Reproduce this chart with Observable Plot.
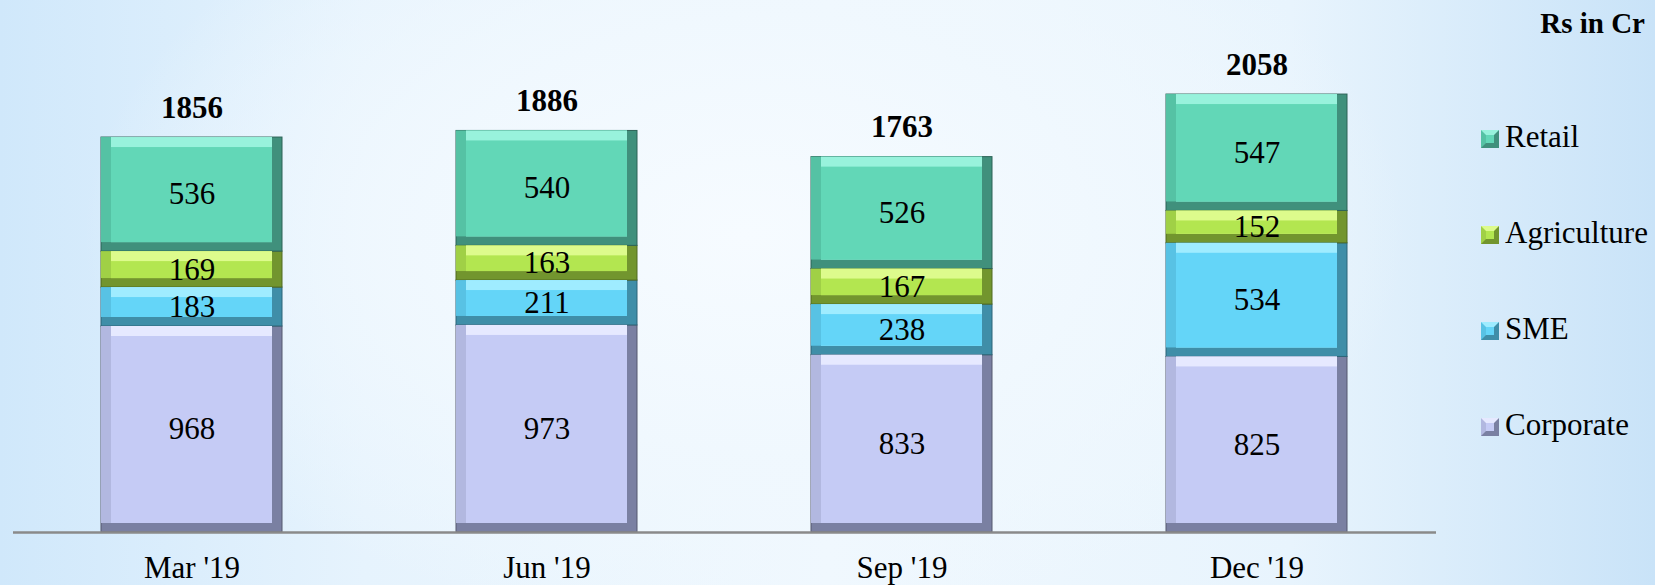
<!DOCTYPE html>
<html>
<head>
<meta charset="utf-8">
<script src="https://cdn.jsdelivr.net/npm/d3@7"></script>
<script src="https://cdn.jsdelivr.net/npm/@observablehq/plot@0.6"></script>
<style>
  html, body { margin: 0; padding: 0; }
  body {
    width: 1655px; height: 585px; overflow: hidden; position: relative;
    font-family: "Liberation Serif", "Times New Roman", serif;
    background:
      radial-gradient(ellipse 50% 85% at 45% 40%, rgba(246,251,255,1) 0%, rgba(240,248,254,0.9) 45%, rgba(240,248,254,0) 80%),
      linear-gradient(90deg, #d0e8fb 0%, #e6f3fd 22%, #f0f8fe 50%, #e8f4fd 78%, #c9e3f8 100%);
  }
  #chart { position: absolute; left: 0; top: 0; }
  #unit {
    position: absolute; right: 10px; top: 9px;
    font-weight: bold; font-size: 29px; line-height: 29px; color: #000;
  }
  .leg {
    position: absolute; left: 1481px; height: 31px;
    font-size: 31px; line-height: 31px; color: #000; white-space: nowrap;
  }
  .sw {
    position: absolute; left: 0; top: 9px; width: 8px; height: 8px;
    border-style: solid; border-width: 5px;
  }
  .leg span.t { position: absolute; left: 24px; top: 0; }
</style>
</head>
<body>
<div id="chart"></div>
<div id="unit">Rs in Cr</div>
<div id="legend"></div>
<script>
// ---- data ----
const quarters = ["Mar '19", "Jun '19", "Sep '19", "Dec '19"];
const series = ["Corporate", "SME", "Agriculture", "Retail"];
const corporate = [968, 973, 833, 825];
const sme = [183, 211, 238, 534];
const agriculture = [169, 163, 167, 152];
const retail = [536, 540, 526, 547];
const totals = [1856, 1886, 1763, 2058];
const legendOrder = ["Retail", "Agriculture", "SME", "Corporate"];

// ---- styles ----
const mainColor = {Corporate: "#c5cbf5", SME: "#64d5f8", Agriculture: "#b3e650", Retail: "#62d7b7"};
const lightColor = {Corporate: "#e6e9ff", SME: "#9fecff", Agriculture: "#ddfb8c", Retail: "#98f2dc"};
const midColor = {Corporate: "#b2b8e0", SME: "#58c2e4", Agriculture: "#a0d046", Retail: "#55c2a4"};
const darkColor = {Corporate: "#7a80a2", SME: "#3f8ea8", Agriculture: "#72952e", Retail: "#40907c"};
const edgeColor = {Corporate: "#55596e", SME: "#2d6578", Agriculture: "#506a20", Retail: "#2d6357"};

const valuesBySeries = {Corporate: corporate, SME: sme, Agriculture: agriculture, Retail: retail};
const rows = [];
quarters.forEach((q, i) => {
  series.forEach(s => rows.push({q, s, v: valuesBySeries[s][i]}));
});
const totalRows = quarters.map((q, i) => ({q, total: totals[i]}));

const b = 10; // bevel size
const stk = (opts) => Plot.stackY({x: "q", y: "v", z: "s", ...opts});

const chart = Plot.plot({
  width: 1655,
  height: 585,
  marginTop: 0,
  marginBottom: 53,
  marginLeft: 13,
  marginRight: 219,
  style: {background: "transparent", fontFamily: "Liberation Serif, Times New Roman, serif", color: "#000"},
  x: {domain: quarters, paddingInner: 0.49, paddingOuter: 0.245, axis: null},
  y: {domain: [0, 2500], axis: null},
  color: {type: "identity"},
  marks: [
    Plot.barY(rows, stk({fill: d => darkColor[d.s], stroke: d => edgeColor[d.s], strokeWidth: 1})),
    Plot.barY(rows, stk({fill: d => midColor[d.s], insetRight: b, insetBottom: b - 1})),
    Plot.barY(rows, stk({fill: d => lightColor[d.s], insetRight: b, insetBottom: b - 1, insetLeft: b})),
    Plot.barY(rows, stk({fill: d => mainColor[d.s], insetRight: b, insetBottom: b - 1, insetLeft: b, insetTop: b})),
    Plot.text(rows, stk({text: d => String(d.v), fontSize: 31, fill: "#000", lineAnchor: "middle"})),
    Plot.text(totalRows, {x: "q", y: "total", text: d => String(d.total), fontSize: 31, fontWeight: "bold", fill: "#000", lineAnchor: "bottom", dy: -20}),
    Plot.ruleY([0], {stroke: "#8a8a8a", strokeWidth: 2.5}),
    Plot.axisX({tickSize: 0, tickPadding: 23, fontSize: 31, fill: "#000", label: null})
  ]
});
document.getElementById("chart").appendChild(chart);

// ---- legend ----
const legend = document.getElementById("legend");
legendOrder.forEach((s, i) => {
  const el = document.createElement("div");
  el.className = "leg";
  el.style.top = (121 + i * 96) + "px";
  const sw = document.createElement("div");
  sw.className = "sw";
  sw.style.background = mainColor[s];
  sw.style.borderTopColor = lightColor[s];
  sw.style.borderLeftColor = midColor[s];
  sw.style.borderRightColor = darkColor[s];
  sw.style.borderBottomColor = darkColor[s];
  const t = document.createElement("span");
  t.className = "t";
  t.textContent = s;
  el.appendChild(sw);
  el.appendChild(t);
  legend.appendChild(el);
});
</script>
</body>
</html>
